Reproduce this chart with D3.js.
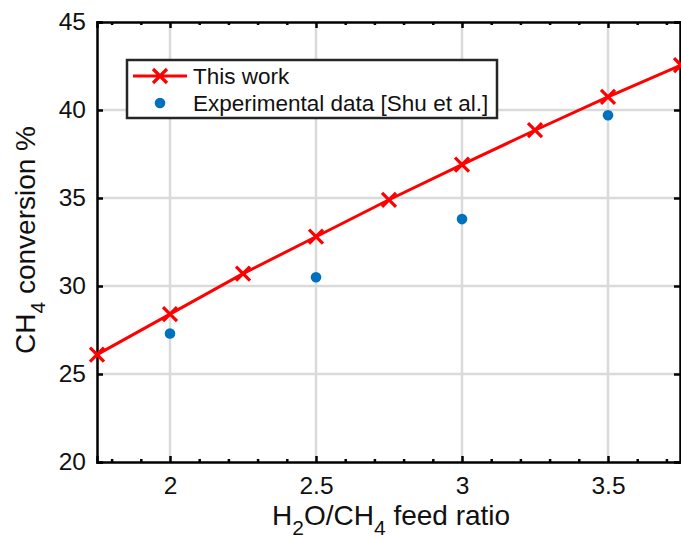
<!DOCTYPE html>
<html>
<head>
<meta charset="utf-8">
<script src="https://cdn.jsdelivr.net/npm/d3@7"></script>
<style>
  html, body { margin: 0; padding: 0; background: #fff; }
  svg { display: block; font-family: "Liberation Sans", Arial, Helvetica, sans-serif; }
</style>
</head>
<body>
<svg id="chart" width="681" height="542"></svg>
<script>
// Model results (This work)
const modelRatio = [1.75, 2.0, 2.25, 2.5, 2.75, 3.0, 3.25, 3.5, 3.75];
const modelConv  = [26.1, 28.4, 30.7, 32.8, 34.9, 36.9, 38.85, 40.75, 42.55];

// Experimental data [Shu et al.]
const expRatio = [2.0, 2.5, 3.0, 3.5];
const expConv  = [27.3, 30.5, 33.8, 39.7];

const xTicks = [2, 2.5, 3, 3.5];
const yTicks = [20, 25, 30, 35, 40, 45];
const xMinorTicks = d3.range(18, 38).map(d => d / 10);

const W = 681, H = 542;
const margin = { left: 97, right: 0, top: 22, bottom: 80 };
const svg = d3.select("#chart");
const FONT = "Liberation Sans, Arial, sans-serif";
const TEXT = "#111";

const x = d3.scaleLinear().domain([1.75, 3.75]).range([margin.left, W - margin.right]);
const y = d3.scaleLinear().domain([20, 45]).range([H - margin.bottom, margin.top]);

const x0 = x.range()[0], x1 = x.range()[1];
const y0 = y.range()[0], y1 = y.range()[1];

// grid
const grid = svg.append("g").attr("stroke", "#dadada").attr("stroke-width", 2.5);
grid.selectAll("line.gx").data(xTicks).join("line")
  .attr("x1", d => x(d)).attr("x2", d => x(d)).attr("y1", y0).attr("y2", y1);
grid.selectAll("line.gy").data(yTicks.slice(1, -1)).join("line")
  .attr("y1", d => y(d)).attr("y2", d => y(d)).attr("x1", x0).attr("x2", x1);

// axes
const tickLen = 6;
svg.append("g").attr("transform", `translate(0,${y0})`)
  .call(d3.axisBottom(x).tickValues(xTicks).tickFormat(d3.format("")).tickSize(-tickLen).tickPadding(15))
  .call(g => g.selectAll(".tick text").attr("dy", "0.71em").attr("y", 15));
svg.append("g").attr("transform", `translate(0,${y1})`)
  .call(d3.axisTop(x).tickValues(xTicks).tickFormat("").tickSize(-tickLen));
svg.append("g").attr("transform", `translate(${x0},0)`)
  .call(d3.axisLeft(y).tickValues(yTicks).tickSize(-tickLen).tickPadding(11));
svg.append("g").attr("transform", `translate(${x1 - 1},0)`)
  .call(d3.axisRight(y).tickValues(yTicks).tickFormat("").tickSize(-tickLen));

// minor ticks on x (bottom and top)
const minor = xMinorTicks.filter(v => !xTicks.some(t => Math.abs(t - v) < 1e-9));
svg.append("g").attr("transform", `translate(0,${y0})`)
  .call(d3.axisBottom(x).tickValues(minor).tickFormat("").tickSize(-3))
  .call(g => g.select(".domain").remove());
svg.append("g").attr("transform", `translate(0,${y1})`)
  .call(d3.axisTop(x).tickValues(minor).tickFormat("").tickSize(-3))
  .call(g => g.select(".domain").remove());

svg.selectAll(".domain").attr("stroke", "#000").attr("stroke-width", 2.5);
svg.selectAll(".tick line").attr("stroke", "#000").attr("stroke-width", 2.5);
svg.selectAll(".tick text").attr("font-size", 24.5).attr("fill", TEXT).attr("font-family", FONT);

// model line
svg.append("path")
  .datum(modelRatio.map((r, i) => [r, modelConv[i]]))
  .attr("fill", "none").attr("stroke", "#ff0000").attr("stroke-width", 3)
  .attr("d", d3.line().x(d => x(d[0])).y(d => y(d[1])));

const xMark = (g, cx, cy, s) => {
  g.append("path")
    .attr("d", `M${cx - s},${cy - s}L${cx + s},${cy + s}M${cx - s},${cy + s}L${cx + s},${cy - s}`)
    .attr("stroke", "#ff0000").attr("stroke-width", 3.2).attr("fill", "none");
};
const marks = svg.append("g");
modelRatio.forEach((r, i) => xMark(marks, x(r), y(modelConv[i]), 7));

// experimental points
svg.append("g").selectAll("circle")
  .data(expRatio.map((r, i) => [r, expConv[i]]))
  .join("circle")
  .attr("cx", d => x(d[0])).attr("cy", d => y(d[1])).attr("r", 5.3)
  .attr("fill", "#0072bd");

// legend
const lg = svg.append("g").attr("font-family", FONT);
lg.append("rect").attr("x", 127).attr("y", 60).attr("width", 370).attr("height", 58)
  .attr("fill", "#fff").attr("stroke", "#262626").attr("stroke-width", 2.5);
lg.append("line").attr("x1", 133).attr("x2", 187).attr("y1", 76).attr("y2", 76)
  .attr("stroke", "#ff0000").attr("stroke-width", 3);
xMark(lg, 160, 76, 7);
lg.append("circle").attr("cx", 160).attr("cy", 103).attr("r", 5.3).attr("fill", "#0072bd");
lg.append("text").attr("x", 193).attr("y", 84).attr("font-size", 22.5).attr("fill", TEXT).text("This work");
lg.append("text").attr("x", 193).attr("y", 111).attr("font-size", 22.5).attr("fill", TEXT)
  .text("Experimental data [Shu et al.]");

// axis titles
const xt = svg.append("text").attr("x", 272).attr("y", 525)
  .attr("font-family", FONT).attr("font-size", 28).attr("fill", TEXT);
xt.append("tspan").text("H");
xt.append("tspan").attr("dy", 10).attr("font-size", 21).text("2");
xt.append("tspan").attr("dy", -10).text("O/CH");
xt.append("tspan").attr("dy", 10).attr("font-size", 21).text("4");
xt.append("tspan").attr("dy", -10).text(" feed ratio");

const yt = svg.append("text").attr("transform", `translate(35,354) rotate(-90)`)
  .attr("font-family", FONT).attr("font-size", 28).attr("fill", TEXT);
yt.append("tspan").text("CH");
yt.append("tspan").attr("dy", 10).attr("font-size", 21).text("4");
yt.append("tspan").attr("dy", -10).text(" conversion %");
</script>
</body>
</html>
